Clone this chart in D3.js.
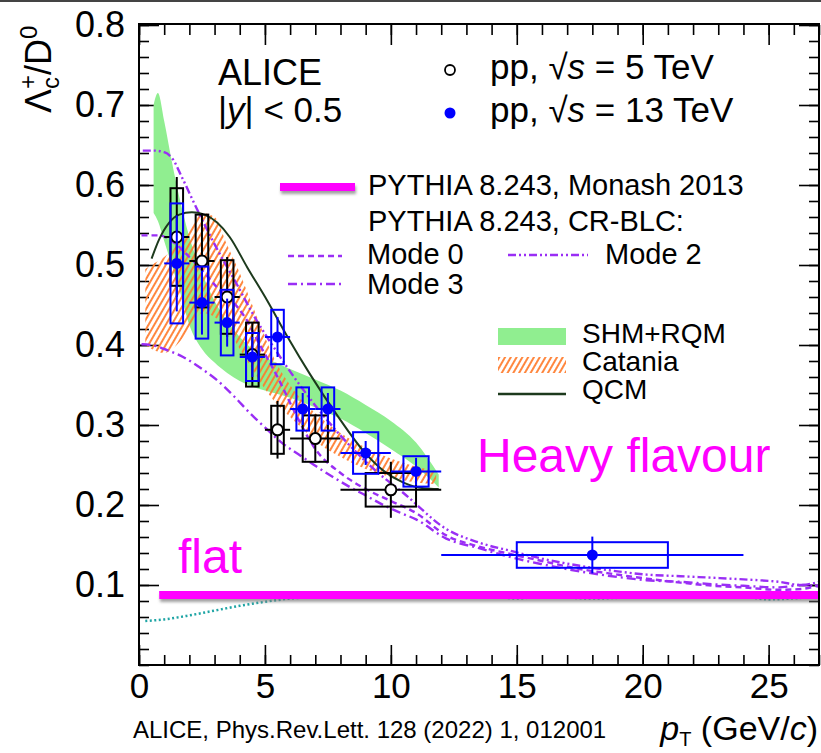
<!doctype html>
<html>
<head>
<meta charset="utf-8">
<style>
  body { margin: 0; background: #fff; }
  text { font-family: "Liberation Sans", Arial, Helvetica, sans-serif; }
</style>
</head>
<body>
<svg id="chart"></svg>
<script src="https://cdn.jsdelivr.net/npm/d3@7"></script>
<script>
// ---- data ----
const xMajor = [0, 5, 10, 15, 20, 25];
const yMajor = [0.1, 0.2, 0.3, 0.4, 0.5, 0.6, 0.7, 0.8];

// pp 5 TeV: pt, value, bin low, bin high, stat, syst
const pp5 = [
  [1.5, 0.535, 1, 2, 0.075, 0.061],
  [2.5, 0.505, 2, 3, 0.060, 0.058],
  [3.5, 0.460, 3, 4, 0.050, 0.046],
  [4.5, 0.388, 4, 5, 0.040, 0.040],
  [5.5, 0.294, 5, 6, 0.036, 0.030],
  [7.0, 0.283, 6, 8, 0.030, 0.029],
  [10.0, 0.219, 8, 12, 0.035, 0.021]
];
// pp 13 TeV
const pp13 = [
  [1.5, 0.502, 1, 2, 0.060, 0.075],
  [2.5, 0.453, 2, 3, 0.040, 0.045],
  [3.5, 0.428, 3, 4, 0.030, 0.041],
  [4.5, 0.385, 4, 5, 0.025, 0.030],
  [5.5, 0.410, 5, 6, 0.025, 0.034],
  [6.5, 0.320, 6, 7, 0.020, 0.027],
  [7.5, 0.320, 7, 8, 0.020, 0.027],
  [9.0, 0.265, 8, 10, 0.015, 0.026],
  [11.0, 0.242, 10, 12, 0.017, 0.019],
  [18.0, 0.1375, 12, 24, 0.023, 0.016]
];

// SHM+RQM band: pt, low, high
const shmRqm = [
  [0.58, 0.565, 0.70], [0.75, 0.555, 0.715], [1.0, 0.53, 0.68], [1.3, 0.50, 0.63],
  [1.6, 0.47, 0.585], [2.0, 0.425, 0.535], [2.5, 0.395, 0.49], [3.0, 0.378, 0.455],
  [3.5, 0.365, 0.43], [4.0, 0.355, 0.41], [4.5, 0.348, 0.395], [5.0, 0.343, 0.385],
  [6.0, 0.334, 0.37], [7.0, 0.322, 0.357], [8.0, 0.308, 0.343], [9.0, 0.29, 0.325],
  [10.0, 0.27, 0.305], [11.0, 0.248, 0.278], [11.9, 0.222, 0.238]
];
// Catania band
const catania = [
  [0.25, 0.40, 0.495], [0.5, 0.395, 0.50], [1.0, 0.39, 0.51], [1.5, 0.40, 0.525],
  [2.0, 0.42, 0.545], [2.5, 0.44, 0.565], [3.0, 0.435, 0.56], [3.5, 0.42, 0.525],
  [4.0, 0.395, 0.49], [4.5, 0.37, 0.45], [5.0, 0.345, 0.41], [5.5, 0.325, 0.375],
  [6.0, 0.31, 0.35], [6.5, 0.295, 0.33], [7.0, 0.28, 0.315], [8.0, 0.26, 0.29],
  [9.0, 0.245, 0.272], [10.0, 0.235, 0.258], [11.0, 0.228, 0.248], [11.8, 0.226, 0.242]
];
// QCM
const qcm = [
  [0.5, 0.508], [0.8, 0.532], [1.2, 0.553], [1.6, 0.563], [2.1, 0.566], [2.6, 0.563],
  [3.1, 0.553], [3.6, 0.535], [4.3, 0.497], [5.1, 0.455], [5.9, 0.41], [6.8, 0.363],
  [7.85, 0.313], [8.9, 0.268], [9.7, 0.243], [10.5, 0.228], [11.3, 0.221], [11.9, 0.22]
];
// PYTHIA CR-BLC modes
const mode0 = [
  [0.1, 0.537], [0.8, 0.537], [1.3, 0.53], [2.0, 0.51], [2.6, 0.49], [3.1, 0.472],
  [3.7, 0.455], [4.2, 0.435], [4.8, 0.40], [5.5, 0.36], [6.2, 0.315], [7.0, 0.27],
  [8.0, 0.24], [9.0, 0.22], [10.0, 0.205], [11.0, 0.19], [12.2, 0.162], [13.5, 0.148],
  [14.85, 0.138], [16, 0.13], [17.5, 0.12], [19, 0.113], [20.15, 0.108], [21.5, 0.103],
  [22.8, 0.099], [24, 0.097], [25.4, 0.094], [26.3, 0.095], [27, 0.10]
];
const mode2 = [
  [0.15, 0.643], [0.6, 0.643], [1.0, 0.641], [1.35, 0.632], [1.7, 0.61], [2.3, 0.57],
  [3.1, 0.52], [3.9, 0.475], [4.5, 0.44], [5.5, 0.39], [6.5, 0.345], [7.5, 0.305],
  [8.5, 0.27], [9.5, 0.24], [10.5, 0.215], [12.2, 0.17], [13.5, 0.153], [14.85, 0.142],
  [16, 0.133], [17.5, 0.124], [19, 0.117], [20.15, 0.113], [21.5, 0.111], [22.8, 0.109],
  [24, 0.107], [25.4, 0.104], [26.3, 0.1], [27, 0.104]
];
const mode3 = [
  [0.1, 0.401], [0.5, 0.40], [1.0, 0.395], [1.75, 0.385], [2.5, 0.37], [3.1, 0.356],
  [3.8, 0.335], [4.4, 0.315], [5.0, 0.297], [5.7, 0.277], [6.4, 0.262], [7.05, 0.248],
  [7.7, 0.235], [8.4, 0.222], [9.0, 0.212], [9.7, 0.20], [10.4, 0.19], [11.0, 0.182],
  [12.2, 0.158], [13.5, 0.146], [14.85, 0.134], [16, 0.126], [17.5, 0.117], [19, 0.11],
  [20.15, 0.106], [21.5, 0.104], [22.8, 0.101], [24, 0.099], [25.4, 0.097], [26.3, 0.10], [27, 0.098]
];
// PYTHIA Monash (teal dotted)
const monash = [
  [0.25, 0.055], [1, 0.057], [2, 0.062], [3, 0.068], [4, 0.074], [5, 0.079], [6, 0.083],
  [7, 0.085], [8, 0.086], [10, 0.087], [14, 0.086], [15, 0.083], [16, 0.086], [18, 0.083],
  [20, 0.085], [22, 0.084], [24, 0.085], [25, 0.082], [27, 0.086]
];
const flatLevel = 0.0875;
const flatFrom = 0.8;

// ---- drawing ----
const W = 821, H = 753;
const svg = d3.select("#chart").attr("width", W).attr("height", H);
const x = d3.scaleLinear().domain([0, 27]).range([139, 819]);
const y = d3.scaleLinear().domain([0, 0.8]).range([665, 25]);

const PURPLE = "#9a2ef5", MAGENTA = "#ff00ff", BLUE = "#0000ff";

const defs = svg.append("defs");
defs.append("clipPath").attr("id", "plot")
  .append("rect").attr("x", 139).attr("y", 25).attr("width", 680).attr("height", 640);
const hatch = defs.append("pattern").attr("id", "hatch")
  .attr("patternUnits", "userSpaceOnUse").attr("width", 5).attr("height", 5)
  .attr("patternTransform", "rotate(30)");
hatch.append("line").attr("x1", 1).attr("y1", 0).attr("x2", 1).attr("y2", 5)
  .attr("stroke", "#ff7a2a").attr("stroke-width", 1.8);
const shadow = defs.append("filter").attr("id", "shadow")
  .attr("x", "-10%").attr("y", "-100%").attr("width", "120%").attr("height", "400%");
shadow.append("feDropShadow").attr("dx", 1).attr("dy", 3).attr("stdDeviation", 1.8)
  .attr("flood-color", "#777").attr("flood-opacity", 0.7);

svg.append("rect").attr("x", 0).attr("y", 0).attr("width", W).attr("height", 2).attr("fill", "#444");

// axes ticks (inward on all sides)
function style(g, size) {
  g.select(".domain").remove();
  g.selectAll(".tick line").attr("stroke", "#000").attr("stroke-width", 1.6);
  g.selectAll("text").attr("fill", "#000").style("font-size", (size || 36) + "px")
    .style("font-family", '"Liberation Sans", Arial, sans-serif');
}
const xMinor = d3.range(0, 28);
const yMinor = d3.range(0, 41).map(i => i * 0.02);
svg.append("g").attr("transform", "translate(0,665)")
  .call(d3.axisBottom(x).tickValues(xMinor).tickSize(-10).tickFormat("")).call(style);
svg.append("g").attr("transform", "translate(0,665)")
  .call(d3.axisBottom(x).tickValues(xMajor).tickSize(-20).tickPadding(8).tickFormat(d3.format("d"))).call(style, 35);
svg.append("g").attr("transform", "translate(0,25)")
  .call(d3.axisTop(x).tickValues(xMinor).tickSize(-10).tickFormat("")).call(style);
svg.append("g").attr("transform", "translate(0,25)")
  .call(d3.axisTop(x).tickValues(xMajor).tickSize(-20).tickFormat("")).call(style);
svg.append("g").attr("transform", "translate(139,0)")
  .call(d3.axisLeft(y).tickValues(yMinor).tickSize(-10).tickFormat("")).call(style);
svg.append("g").attr("transform", "translate(139,0)")
  .call(d3.axisLeft(y).tickValues(yMajor).tickSize(-20).tickPadding(14).tickFormat(d3.format(".1f"))).call(style);
svg.append("g").attr("transform", "translate(819,0)")
  .call(d3.axisRight(y).tickValues(yMinor).tickSize(-10).tickFormat("")).call(style);
svg.append("g").attr("transform", "translate(819,0)")
  .call(d3.axisRight(y).tickValues(yMajor).tickSize(-20).tickFormat("")).call(style);

const plot = svg.append("g").attr("clip-path", "url(#plot)");

// model bands
const band = d3.area().x(d => x(d[0])).y0(d => y(d[1])).y1(d => y(d[2])).curve(d3.curveMonotoneX);
plot.append("path").datum(shmRqm).attr("d", band).attr("fill", "#90ee90");
plot.append("path").datum(catania).attr("d", band).attr("fill", "url(#hatch)");

const line = d3.line().x(d => x(d[0])).y(d => y(d[1])).curve(d3.curveMonotoneX);
plot.append("path").datum(monash).attr("d", line).attr("fill", "none")
  .attr("stroke", "#1fa5a5").attr("stroke-width", 2.5).attr("stroke-dasharray", "2,2.5");
const modes = [
  [mode0, "6,4"],
  [mode2, "8,3,2,3,2,3"],
  [mode3, "9,4,2,4"]
];
modes.forEach(([d, dash]) => {
  plot.append("path").datum(d).attr("d", line).attr("fill", "none")
    .attr("stroke", PURPLE).attr("stroke-width", 2.4).attr("stroke-dasharray", dash);
});
plot.append("path").datum(qcm).attr("d", line).attr("fill", "none")
  .attr("stroke", "#1d3a1d").attr("stroke-width", 2);

// flat line (drawn as a thin rect so the shadow filter has a box)
plot.append("rect").attr("x", x(flatFrom)).attr("width", x(27) - x(flatFrom))
  .attr("y", y(flatLevel) - 4).attr("height", 8)
  .attr("fill", MAGENTA).attr("filter", "url(#shadow)");

// data
function drawSeries(data, color) {
  const g = plot.append("g").attr("stroke", color).attr("stroke-width", 2).attr("fill", "none");
  g.selectAll(".syst").data(data).join("rect")
    .attr("x", d => x(d[0] - (d[3] - d[2]) / 4))
    .attr("width", d => x(d[0] + (d[3] - d[2]) / 4) - x(d[0] - (d[3] - d[2]) / 4))
    .attr("y", d => y(d[1] + d[5]))
    .attr("height", d => y(d[1] - d[5]) - y(d[1] + d[5]));
  g.selectAll(".xe").data(data).join("line")
    .attr("x1", d => x(d[2])).attr("x2", d => x(d[3]))
    .attr("y1", d => y(d[1])).attr("y2", d => y(d[1]));
  g.selectAll(".ye").data(data).join("line")
    .attr("x1", d => x(d[0])).attr("x2", d => x(d[0]))
    .attr("y1", d => y(d[1] - d[4])).attr("y2", d => y(d[1] + d[4]));
  return g;
}
const g5 = drawSeries(pp5, "#000");
const g13 = drawSeries(pp13, BLUE);
g5.selectAll("circle").data(pp5).join("circle")
  .attr("cx", d => x(d[0])).attr("cy", d => y(d[1])).attr("r", 5.5)
  .attr("fill", "#fff").attr("stroke", "#000").attr("stroke-width", 2);
g13.selectAll("circle").data(pp13).join("circle")
  .attr("cx", d => x(d[0])).attr("cy", d => y(d[1])).attr("r", 5.5)
  .attr("fill", BLUE).attr("stroke", "none");

// frame
svg.append("rect").attr("x", 139).attr("y", 24).attr("width", 680).attr("height", 641)
  .attr("fill", "none").attr("stroke", "#000").attr("stroke-width", 2);

// axis titles
const yt = svg.append("text").attr("transform", "translate(51,113) rotate(-90)")
  .style("font-size", "36px").attr("fill", "#000");
yt.append("tspan").text("Λ");
yt.append("tspan").text("c").style("font-size", "24px").attr("dy", 8);
yt.append("tspan").text("+").style("font-size", "24px").attr("dx", -12).attr("dy", -23);
yt.append("tspan").text("/D").attr("dy", 15);
yt.append("tspan").text("0").style("font-size", "24px").attr("dy", -14);

const xt = svg.append("text").attr("x", 818).attr("y", 740).attr("text-anchor", "end")
  .style("font-size", "34px").attr("fill", "#000");
xt.append("tspan").text("p").style("font-style", "italic");
xt.append("tspan").text("T").style("font-size", "20px").attr("dy", 6);
xt.append("tspan").text(" (GeV/").attr("dy", -6);
xt.append("tspan").text("c").style("font-style", "italic");
xt.append("tspan").text(")");

svg.append("text").attr("x", 133).attr("y", 738).style("font-size", "24px")
  .text("ALICE, Phys.Rev.Lett. 128 (2022) 1, 012001");

// legend
const lg = svg.append("g");
lg.append("text").attr("x", 218).attr("y", 85).style("font-size", "36px").text("ALICE");
const yy = lg.append("text").attr("x", 218).attr("y", 122).style("font-size", "35px");
yy.append("tspan").text("|");
yy.append("tspan").text("y").style("font-style", "italic");
yy.append("tspan").text("| < 0.5");

lg.append("circle").attr("cx", 450).attr("cy", 70).attr("r", 5).attr("fill", "#fff")
  .attr("stroke", "#000").attr("stroke-width", 1.8);
lg.append("circle").attr("cx", 450).attr("cy", 113).attr("r", 5.5).attr("fill", BLUE);
[[79, "5"], [122, "13"]].forEach(([by, e]) => {
  const t = lg.append("text").attr("x", 490).attr("y", by).style("font-size", "35px");
  t.append("tspan").text("pp,  √");
  t.append("tspan").text("s").style("font-style", "italic");
  t.append("tspan").text(" = " + e + " TeV");
});

lg.append("rect").attr("x", 280).attr("width", 75).attr("y", 183).attr("height", 8)
  .attr("fill", MAGENTA).attr("filter", "url(#shadow)");
lg.append("text").attr("x", 368).attr("y", 195).style("font-size", "29px").text("PYTHIA 8.243, Monash 2013");
lg.append("text").attr("x", 368).attr("y", 231).style("font-size", "29px").text("PYTHIA 8.243, CR-BLC:");
const modeLegend = [
  [288, 342, 256, 367, 264, "Mode 0", "6,4"],
  [508, 588, 255, 605, 264, "Mode 2", "8,3,2,3,2,3"],
  [288, 342, 284, 367, 294, "Mode 3", "9,4,2,4"]
];
modeLegend.forEach(([x1, x2, ly, tx, ty, label, dash]) => {
  lg.append("line").attr("x1", x1).attr("x2", x2).attr("y1", ly).attr("y2", ly)
    .attr("stroke", PURPLE).attr("stroke-width", 2.4).attr("stroke-dasharray", dash);
  lg.append("text").attr("x", tx).attr("y", ty).style("font-size", "29px").text(label);
});

lg.append("rect").attr("x", 498).attr("y", 328).attr("width", 68).attr("height", 17).attr("fill", "#90ee90");
lg.append("rect").attr("x", 498).attr("y", 357).attr("width", 68).attr("height", 16).attr("fill", "url(#hatch)");
lg.append("line").attr("x1", 498).attr("x2", 566).attr("y1", 394).attr("y2", 394)
  .attr("stroke", "#1d3a1d").attr("stroke-width", 2.5);
[[343, "SHM+RQM"], [371, "Catania"], [399, "QCM"]].forEach(([ty, label]) => {
  lg.append("text").attr("x", 582).attr("y", ty).style("font-size", "28px").text(label);
});

// annotations
svg.append("text").attr("x", 477).attr("y", 472).style("font-size", "48px")
  .attr("fill", MAGENTA).text("Heavy flavour");
svg.append("text").attr("x", 178).attr("y", 573).style("font-size", "48px")
  .attr("fill", MAGENTA).text("flat");
</script>
</body>
</html>
